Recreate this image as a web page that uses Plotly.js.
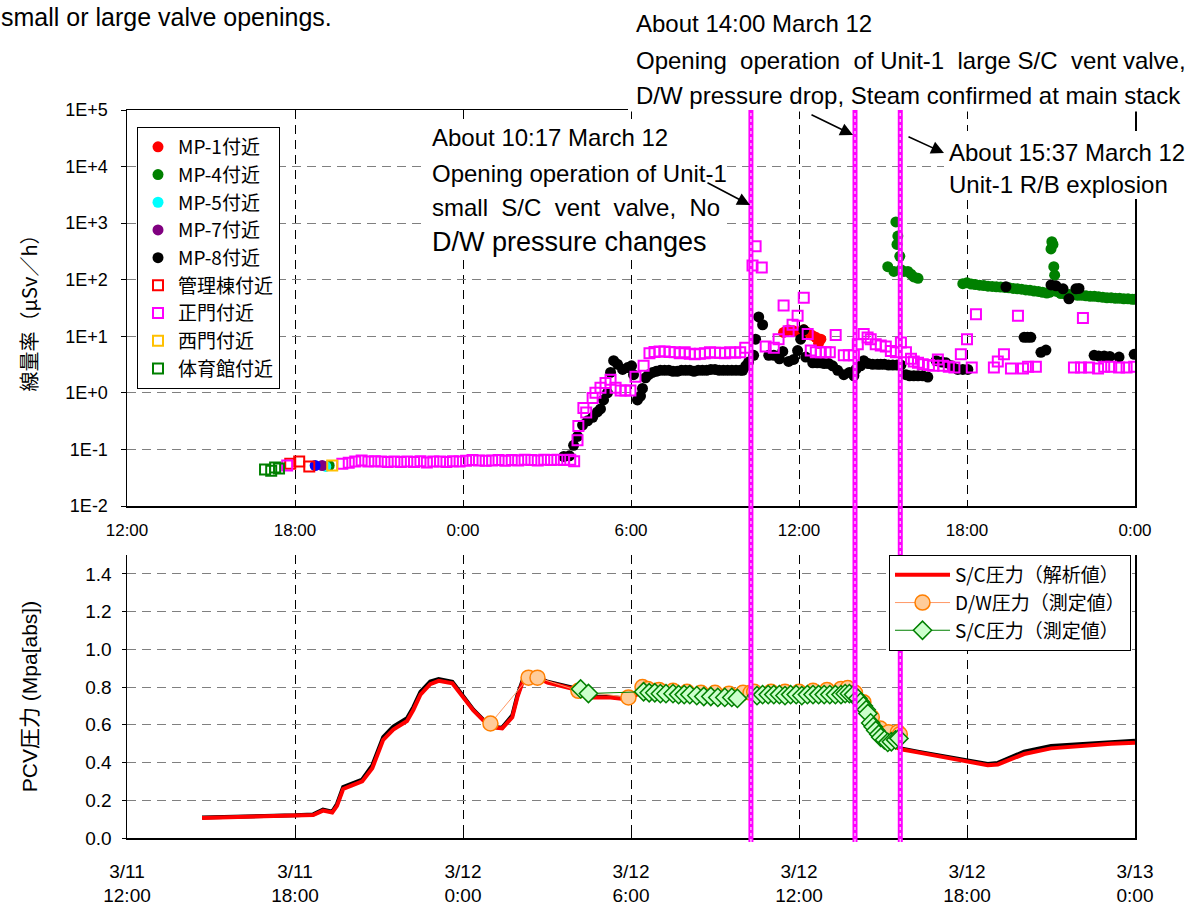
<!DOCTYPE html>
<html><head><meta charset="utf-8">
<script src="https://cdn.plot.ly/plotly-3.0.1.min.js"></script>
<style>html,body{margin:0;padding:0;background:#fff}#chart{width:1187px;height:911px}</style>
</head><body><div id="chart"></div>
<script>
// ===== DATA (x = hours after 3/11 12:00) =====
const hourTicks = [0, 6, 12, 18, 24, 30, 36];
const timeTickText = ['12:00', '18:00', '0:00', '6:00', '12:00', '18:00', '0:00'];
const dateTickText = ['3/11', '3/11', '3/12', '3/12', '3/12', '3/12', '3/13'];
const doseTickVals = [0.01, 0.1, 1, 10, 100, 1000, 10000, 100000];
const doseTickText = ['1E-2', '1E-1', '1E+0', '1E+1', '1E+2', '1E+3', '1E+4', '1E+5'];
const pressTickVals = [0, 0.2, 0.4, 0.6, 0.8, 1.0, 1.2, 1.4];
const pressTickText = ['0.0', '0.2', '0.4', '0.6', '0.8', '1.0', '1.2', '1.4'];
const ventHours = [22.283, 26.0, 27.617];   // 10:17, 14:00, 15:37 on 3/12

const mp1 = [[23.45,11.7],[23.55,12.5],[23.63,12.9],[23.8,12.5],[24.0,12.0],[24.17,13],[24.3,11.7],[24.45,10.5],[24.6,9.6],[24.7,7.5],[24.78,8.9]];
const mp4 = [[7.22,0.052],[27.17,170],[27.39,140],[27.46,1050],[27.5,420],[27.53,590],[27.6,260],[27.64,150],[27.75,140],[27.89,140],[28.0,125],[28.1,112],[28.25,106],
  [29.85,85],[30.0,88],[30.15,84],[30.3,82],[30.45,80],[30.6,79],[30.75,77],[30.9,76],[31.05,75],[31.2,74],[31.35,73],[31.5,72],[31.65,70],[31.8,69],[31.95,68],[32.1,66],[32.25,65],[32.4,63],[32.55,62],[32.7,60],[32.85,58],[32.95,60],
  [33.0,350],[33.03,470],[33.07,420],[33.1,170],[33.13,120],[33.2,62],[33.35,57],[33.5,56],[33.65,55],[33.8,54],[33.95,53],[34.1,53],[34.25,52],[34.4,51],[34.55,51],[34.7,50],[34.85,49],[35.0,48],[35.15,48],[35.3,47],[35.45,47],[35.6,46],[35.75,46],[35.9,45],[36.0,45]];
const mp5 = [[7.1,0.050]];
const mp7 = [[6.97,0.052]];
const mpOther = [[6.72,0.052]];
const mp8 = [[15.6,0.075],[15.8,0.077],[15.95,0.118],[16.09,0.17],[16.27,0.27],[16.45,0.32],[16.63,0.37],[16.8,0.46],[16.91,0.52],[17.02,0.75],[17.16,1.0],[17.27,2.3],[17.38,3.7],[17.52,3.2],[17.7,2.6],[17.88,2.8],[18.02,3.0],[18.09,2.1],[18.23,0.75],[18.34,0.88],[18.41,1.2],[18.52,1.85],[18.63,2.1],
  [18.77,2.3],[18.9,2.4],[19.05,2.5],[19.2,2.5],[19.35,2.5],[19.5,2.4],[19.65,2.4],[19.8,2.5],[19.95,2.5],[20.1,2.5],[20.25,2.4],[20.4,2.5],[20.55,2.5],[20.7,2.5],[20.85,2.6],[21.0,2.6],[21.15,2.5],[21.3,2.5],[21.45,2.5],[21.6,2.5],[21.75,2.5],[21.9,2.5],[21.99,2.5],
  [22.1,3.0],[22.2,3.5],[22.38,4.6],[22.45,8.9],[22.56,22],[22.7,16],[22.92,4.6],[23.1,4.6],[23.3,4.0],[23.42,5.4],[23.63,3.6],[23.81,3.9],[23.95,5.6],[24.06,8.9],[24.17,13],[24.24,4.3],[24.49,3.4],[24.65,3.4],[24.78,3.4],[24.9,3.3],[25.06,3.3],[25.2,3.0],[25.38,2.5],[25.6,2.1],[25.8,2.3],[25.96,2.0],
  [26.03,2.6],[26.2,3.0],[26.31,3.7],[26.47,3.3],[26.63,3.2],[26.8,3.2],[26.92,3.2],[27.05,3.2],[27.2,3.1],[27.35,3.1],[27.5,3.1],[27.64,3.1],[27.82,2.1],[27.95,2.0],[28.1,2.0],[28.25,2.0],[28.42,2.0],[28.6,1.9],[28.9,3.7],[29.1,3.5],[29.25,3.4],[29.45,3.0],[29.67,2.6],[29.85,2.6],[30.03,2.6],
  [31.39,75],[32.04,9.6],[32.16,9.6],[32.28,9.6],[32.64,5.2],[32.82,5.7],[33.0,81],[33.18,78],[33.43,69],[33.64,46],[33.89,69],[34.0,70],[34.54,4.6],[34.7,4.5],[34.9,4.5],[35.1,4.4],[35.43,4.3],[35.97,4.8]];
const kanri = [[5.83,0.056],[6.15,0.061],[6.51,0.050]];
const seimon = [[5.72,0.052],[7.69,0.056],[7.92,0.058],[8.15,0.061],[8.38,0.064],[8.62,0.061],[8.85,0.062],[9.08,0.061],[9.31,0.060],[9.55,0.061],[9.78,0.060],[10.01,0.061],[10.25,0.060],[10.48,0.062],[10.71,0.059],[10.94,0.061],[11.18,0.061],[11.41,0.060],[11.64,0.062],[11.88,0.061],[12.11,0.063],[12.34,0.065],[12.57,0.064],[12.81,0.063],[13.04,0.064],[13.27,0.065],[13.51,0.063],[13.74,0.065],[13.97,0.064],[14.2,0.066],[14.44,0.065],[14.67,0.064],[14.9,0.066],[15.14,0.065],[15.37,0.066],[15.6,0.065],[15.83,0.066],[15.97,0.062],
  [16.09,0.145],[16.12,0.26],[16.3,0.54],[16.4,0.45],[16.63,0.81],[16.73,1.0],[16.91,1.23],[17.09,1.5],[17.27,1.7],[17.45,1.23],[17.63,1.1],[17.8,1.1],[17.98,1.1],[18.16,1.93],[18.45,3.0],[18.66,5.0],
  [18.84,5.3],[19.02,5.4],[19.2,5.4],[19.38,5.3],[19.56,5.2],[19.74,5.0],[19.92,5.2],[20.1,4.9],[20.28,4.8],[20.46,4.9],[20.64,5.0],[20.82,5.2],[21.0,5.1],[21.18,5.1],[21.36,5.0],[21.54,5.2],[21.72,5.1],[21.9,5.2],[22.08,6.3],
  [22.34,178],[22.45,390],[22.67,165],[22.81,6.6],[23.1,6.3],[23.27,8.9],[23.45,35],[23.63,12.3],[23.77,16],[23.95,23],[24.17,48],[24.31,11],[24.42,5.6],[24.6,5.2],[24.78,5.2],[24.95,5.2],[25.1,5.2],[25.31,10.5],[25.6,4.6],[25.78,4.6],[25.96,4.6],
  [26.1,7.2],[26.31,11],[26.45,9.5],[26.56,8.9],[26.74,7.2],[26.92,6.9],[27.1,6.6],[27.28,5.5],[27.46,5.2],[27.64,7.8],[27.82,5.2],[28.0,4.0],[28.1,3.6],[28.25,3.4],[28.42,3.2],[28.64,3.1],[28.8,3.0],[28.96,3.9],[29.15,3.0],[29.35,2.9],[29.55,2.8],
  [29.78,4.8],[30.0,8.9],[30.17,2.8],[30.32,24.5],[30.96,2.8],[31.1,3.6],[31.32,4.8],[31.57,2.7],[31.82,23],[32.0,2.7],[32.18,2.9],[32.46,2.9],[33.82,2.8],[34.07,2.8],[34.14,21],[34.36,2.8],[34.68,2.7],[34.9,2.9],[35.15,2.9],[35.43,2.8],[35.7,2.8],[35.97,2.9]];
const nishimon = [[7.33,0.052]];
const taiikukan = [[4.93,0.044],[5.15,0.042],[5.29,0.048],[5.43,0.046]];

const scAnalysis = [[2.68,0.106],[3.68,0.109],[5.0,0.112],[6.0,0.118],[6.65,0.122],[7.0,0.145],[7.33,0.135],[7.5,0.17],[7.72,0.26],[7.97,0.275],[8.4,0.30],[8.76,0.37],[9.15,0.52],[9.51,0.575],[10.0,0.62],[10.23,0.68],[10.48,0.76],[10.83,0.815],[11.13,0.833],[11.62,0.82],[12.01,0.745],[12.37,0.676],[12.73,0.623],[13.09,0.586],[13.4,0.581],[13.76,0.64],[13.94,0.745],[14.16,0.84],[14.66,0.85],[15.02,0.824],[15.95,0.79],[16.55,0.745],[17.27,0.745],[17.88,0.735],[18.34,0.77],[19.0,0.77],[20.0,0.765],[21.0,0.76],[22.0,0.76],[23.0,0.76],[24.0,0.765],[25.0,0.77],[25.9,0.77],[26.2,0.75],[26.46,0.676],[26.8,0.586],[27.17,0.5],[27.64,0.47],[28.24,0.454],[28.82,0.438],[29.42,0.42],[29.78,0.412],[30.74,0.386],[31.1,0.39],[32.04,0.445],[33.0,0.475],[34.18,0.49],[35.14,0.5],[36.0,0.505]];
const dwAnalysis = [[2.68,0.108],[3.68,0.111],[5.0,0.114],[6.0,0.12],[6.65,0.125],[7.0,0.15],[7.33,0.14],[7.5,0.18],[7.72,0.27],[7.97,0.285],[8.4,0.31],[8.76,0.385],[9.15,0.535],[9.51,0.59],[10.0,0.635],[10.23,0.695],[10.48,0.775],[10.83,0.83],[11.13,0.842],[11.62,0.828],[12.01,0.75],[12.37,0.68],[12.73,0.626],[13.09,0.588],[13.4,0.585],[13.76,0.65],[13.94,0.755],[14.16,0.848],[14.66,0.852],[15.02,0.828],[15.95,0.795],[16.55,0.75],[17.27,0.748],[17.88,0.738],[18.34,0.775],[19.0,0.775],[20.0,0.77],[21.0,0.765],[22.0,0.765],[23.0,0.765],[24.0,0.77],[25.0,0.775],[25.9,0.775],[26.2,0.755],[26.46,0.68],[26.8,0.59],[27.17,0.505],[27.64,0.475],[28.24,0.458],[28.82,0.442],[29.42,0.426],[29.78,0.418],[30.74,0.392],[31.1,0.398],[32.04,0.458],[33.0,0.488],[34.18,0.5],[35.14,0.51],[36.0,0.515]];
const dwMeasured = [[12.98,0.607],[14.34,0.85],[14.66,0.85],[16.12,0.78],[17.91,0.745],[18.41,0.80],[18.6,0.79],[19.0,0.785],[19.5,0.78],[20.0,0.775],[20.5,0.77],[21.0,0.77],[21.5,0.765],[22.0,0.77],[22.27,0.77],[22.4,0.775],[23.0,0.775],[23.5,0.775],[24.0,0.775],[24.5,0.78],[25.0,0.785],[25.5,0.79],[25.74,0.795],[26.0,0.77],[26.3,0.72],[26.6,0.64],[26.9,0.58],[27.2,0.56],[27.53,0.56],[27.6,0.55]];
const scMeasured = [[16.2,0.79],[16.48,0.766],[18.45,0.775],[18.65,0.77],[18.85,0.77],[19.05,0.765],[19.25,0.765],[19.5,0.765],[19.7,0.76],[19.9,0.76],[20.1,0.76],[20.35,0.755],[20.6,0.75],[20.85,0.75],[21.1,0.745],[21.35,0.745],[21.6,0.745],[21.8,0.74],
  [22.5,0.755],[22.7,0.76],[22.9,0.76],[23.1,0.76],[23.3,0.76],[23.5,0.755],[23.7,0.76],[23.9,0.76],[24.1,0.755],[24.3,0.76],[24.5,0.76],[24.7,0.76],[24.9,0.76],[25.1,0.76],[25.3,0.76],[25.5,0.76],[25.65,0.765],[25.8,0.765],[25.95,0.76],
  [26.1,0.74],[26.2,0.72],[26.3,0.70],[26.4,0.68],[26.46,0.66],[26.56,0.61],[26.65,0.59],[26.74,0.57],[26.85,0.55],[26.92,0.534],[27.05,0.52],[27.17,0.507],[27.3,0.51],[27.45,0.52],[27.57,0.528]];

// ===== helpers =====
const xs = a => a.map(p => p[0]);
const ys = a => a.map(p => p[1]);
const ML = 127, MR = 52, MT = 110, MB = 73, W = 1187, H = 911;
const PW = W - ML - MR, PH = H - MT - MB;
const P = px => (px - ML) / PW;          // page px -> paper x
const Q = py => (H - MB - py) / PH;      // page px -> paper y
const JP = 'Noto Sans CJK JP, sans-serif';
const LS = 'Liberation Sans, Arial, sans-serif';

function dots(name, data, color, extra) {
  return Object.assign({type:'scatter', mode:'markers', name:name, x:xs(data), y:ys(data), xaxis:'x', yaxis:'y',
    marker:{symbol:'circle', size:11, color:color, line:{width:0}}, legend:'legend'}, extra || {});
}
function squares(name, data, color) {
  return {type:'scatter', mode:'markers', name:name, x:xs(data), y:ys(data), xaxis:'x', yaxis:'y',
    marker:{symbol:'square-open', size:10, color:color, line:{width:2, color:color}}, legend:'legend'};
}

const traces = [
  dots('MP-1付近', mp1, '#FF0000'),
  dots('MP-4付近', mp4, '#008000'),
  dots('MP-5付近', mp5, '#00FFFF'),
  dots('MP-7付近', mp7, '#800080'),
  dots('other', mpOther, '#0000FF', {showlegend:false}),
  dots('MP-8付近', mp8, '#000000'),
  squares('管理棟付近', kanri, '#FF0000'),
  squares('正門付近', seimon, '#FF00FF'),
  squares('西門付近', nishimon, '#FFC000'),
  squares('体育館付近', taiikukan, '#008000'),
  {type:'scatter', mode:'lines', name:'D/W圧力（解析値）', x:xs(dwAnalysis), y:ys(dwAnalysis), xaxis:'x2', yaxis:'y2',
    line:{color:'#000', width:4}, showlegend:false, legend:'legend2'},
  {type:'scatter', mode:'lines', name:'S/C圧力（解析値）', x:xs(scAnalysis), y:ys(scAnalysis), xaxis:'x2', yaxis:'y2',
    line:{color:'#FF0000', width:4}, legend:'legend2'},
  {type:'scatter', mode:'lines+markers', name:'D/W圧力（測定値）', x:xs(dwMeasured), y:ys(dwMeasured), xaxis:'x2', yaxis:'y2',
    line:{color:'#FF9966', width:1}, marker:{symbol:'circle', size:15, color:'#FFCC99', line:{color:'#FF7F00', width:1.5}}, legend:'legend2'},
  {type:'scatter', mode:'lines+markers', name:'S/C圧力（測定値）', x:xs(scMeasured), y:ys(scMeasured), xaxis:'x2', yaxis:'y2',
    line:{color:'#008000', width:1}, marker:{symbol:'diamond', size:14, color:'#CCFFCC', line:{color:'#008000', width:1.5}}, legend:'legend2'},
  {type:'scatter', mode:'markers', x:[0], y:[null], xaxis:'x3', yaxis:'y2', showlegend:false, hoverinfo:'skip'}
];

// ===== shapes =====
const shapes = [];
const whiteBox = (x0, x1, y0, y1) => ({type:'rect', xref:'paper', yref:'paper', x0:P(x0), x1:P(x1), y0:Q(y1), y1:Q(y0),
  fillcolor:'#fff', line:{width:0}, layer:'above'});
shapes.push(whiteBox(628, 1187, 0, 111.5));
shapes.push(whiteBox(425, 726, 119, 258));
shapes.push(whiteBox(944, 1187, 131, 199));
ventHours.forEach(h => {
  shapes.push({type:'line', xref:'x', yref:'paper', x0:h, x1:h, y0:Q(842), y1:1, line:{color:'#FF00FF', width:5}, layer:'above'});
  shapes.push({type:'line', xref:'x', yref:'paper', x0:h, x1:h, y0:Q(842), y1:1, line:{color:'#FFB0FF', width:1.5, dash:'dot'}, layer:'above'});
});

// ===== annotations =====
const txt = (text, px, py, size) => ({text:text, xref:'paper', yref:'paper', x:P(px), y:Q(py), xanchor:'left', yanchor:'middle',
  showarrow:false, align:'left', font:{family:LS, size:size || 24, color:'#000'}, borderpad:0});
const arrow = (tipX, tipY, tailX, tailY) => ({text:'', xref:'paper', yref:'paper', x:P(tipX), y:Q(tipY), ax:tailX - tipX, ay:tailY - tipY,
  showarrow:true, arrowhead:2, arrowsize:1.6, arrowwidth:1.6, arrowcolor:'#000'});
const S = '\u00a0';
const annotations = [
  txt('small or large valve openings.', 0, 17, 25),
  txt('About 14:00 March 12', 635, 24),
  txt('Opening' + S + ' operation' + S + ' of Unit-1' + S + ' large S/C' + S + ' vent valve,', 635, 60),
  txt('D/W pressure drop, Steam confirmed at main stack', 635, 95),
  txt('About 10:17 March 12', 431, 137),
  txt('Opening operation of Unit-1', 431, 173),
  txt('small' + S + ' S/C' + S + ' vent' + S + ' valve,' + S + ' No', 431, 208),
  txt('D/W pressure changes', 431, 242, 27),
  txt('About 15:37 March 12', 948, 152),
  txt('Unit-1 R/B explosion', 948, 185),
  arrow(853, 135, 810, 114),
  arrow(944, 153, 907, 136),
  arrow(750, 205, 706, 182)
];

const gridDash = '9px,6px';
const layout = {
  width:W, height:H,
  margin:{l:ML, r:MR, t:MT, b:MB},
  paper_bgcolor:'#fff', plot_bgcolor:'#fff',
  font:{family:LS, size:17, color:'#000'},
  showlegend:true,
  xaxis:{domain:[0,1], anchor:'y', range:[0,36], tickmode:'array', tickvals:hourTicks, ticktext:timeTickText,
    showgrid:true, gridcolor:'#000', griddash:gridDash, gridwidth:1, zeroline:false,
    showline:true, linecolor:'#000', linewidth:1.5, mirror:true, ticks:'', ticklabelstandoff:8, tickfont:{size:17}},
  yaxis:{domain:[Q(506),1], anchor:'x', type:'log', range:[-2,5], tickmode:'array', tickvals:doseTickVals, ticktext:doseTickText,
    showgrid:true, gridcolor:'#808080', griddash:gridDash, zeroline:false,
    showline:true, linecolor:'#000', linewidth:1.5, mirror:true, ticks:'outside', ticklen:5, tickcolor:'#000', ticklabelstandoff:9, tickfont:{size:18},
    title:{text:'線量率（μSv／h）', font:{family:JP, size:20}, standoff:22}},
  xaxis2:{domain:[0,1], anchor:'y2', range:[0,36], tickmode:'array', tickvals:hourTicks, ticktext:dateTickText,
    showgrid:true, gridcolor:'#000', griddash:gridDash, zeroline:false,
    showline:true, linecolor:'#000', linewidth:1.5, mirror:false, ticks:'inside', ticklen:12, tickcolor:'#000', ticklabelstandoff:16, tickfont:{size:19}},
  xaxis3:{overlaying:'x2', anchor:'y2', range:[0,36], tickmode:'array', tickvals:hourTicks, ticktext:timeTickText,
    showgrid:false, zeroline:false, showline:false, ticks:'', ticklabelstandoff:44, tickfont:{size:19}},
  yaxis2:{domain:[0,Q(555)], anchor:'x2', range:[0,1.5], tickmode:'array', tickvals:pressTickVals, ticktext:pressTickText,
    showgrid:true, gridcolor:'#808080', griddash:gridDash, zeroline:false,
    showline:true, linecolor:'#000', linewidth:1.5, mirror:true, ticks:'outside', ticklen:4, tickcolor:'#000', ticklabelstandoff:6, tickfont:{size:19},
    title:{text:'PCV圧力 (Mpa[abs])', font:{family:LS + ', ' + JP, size:21}, standoff:42}},
  legend:{x:P(137), y:Q(127), xanchor:'left', yanchor:'top', bgcolor:'#fff', bordercolor:'#000', borderwidth:1,
    font:{family:JP, size:19}, itemwidth:30, tracegroupgap:0},
  legend2:{x:P(889), y:Q(555), xanchor:'left', yanchor:'top', bgcolor:'#fff', bordercolor:'#000', borderwidth:1,
    font:{family:JP, size:19}, itemwidth:55, tracegroupgap:0},
  shapes:shapes,
  annotations:annotations
};

Plotly.newPlot('chart', traces, layout, {staticPlot:true, displayModeBar:false});
</script>
</body></html>
